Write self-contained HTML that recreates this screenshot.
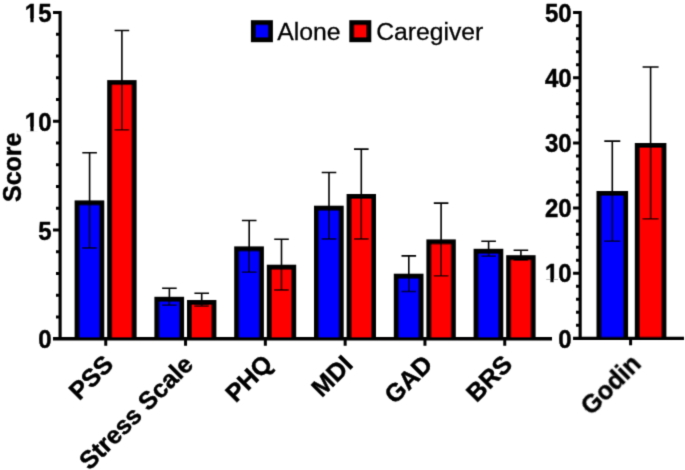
<!DOCTYPE html>
<html lang="en"><head><meta charset="utf-8"><title>Scores: Alone vs Caregiver</title>
<style>html,body{margin:0;padding:0;background:#fff}body{width:685px;height:470px;overflow:hidden}svg{display:block}text{font-family:"Liberation Sans",Arial,Helvetica,sans-serif;fill:#000}.r{stroke:#000;stroke-width:0.3px}.b{font-weight:bold;stroke:#000;stroke-width:0.45px;stroke-linejoin:round}</style>
</head><body>
<svg width="685" height="470" viewBox="0 0 685 470">
<defs><filter id="soft" x="0" y="0" width="685" height="470" filterUnits="userSpaceOnUse"><feConvolveMatrix order="3" kernelMatrix="0.0196 0.1008 0.0196 0.1008 0.5184 0.1008 0.0196 0.1008 0.0196" divisor="1" edgeMode="duplicate" preserveAlpha="false"/></filter></defs>
<rect width="685" height="470" fill="#fff"/>
<g filter="url(#soft)">
<rect x="74.60" y="200.40" width="29.70" height="138.40" fill="#000"/>
<rect x="79.60" y="205.40" width="19.70" height="133.40" fill="#0000ff"/>
<rect x="107.20" y="80.10" width="29.40" height="258.70" fill="#000"/>
<rect x="112.20" y="85.10" width="19.40" height="253.70" fill="#ff0000"/>
<path d="M89.60 152.80V247.90M82.30 152.80h14.60M82.30 247.90h14.60" stroke="#000" stroke-width="1.6" fill="none"/>
<path d="M121.90 30.50V129.70M114.60 30.50h14.60M114.60 129.70h14.60" stroke="#000" stroke-width="1.6" fill="none"/>
<rect x="154.40" y="296.80" width="29.70" height="42.00" fill="#000"/>
<rect x="159.40" y="301.80" width="19.70" height="37.00" fill="#0000ff"/>
<rect x="187.00" y="300.00" width="29.40" height="38.80" fill="#000"/>
<rect x="192.00" y="305.00" width="19.40" height="33.80" fill="#ff0000"/>
<path d="M169.40 288.20V305.20M162.10 288.20h14.60M162.10 305.20h14.60" stroke="#000" stroke-width="1.6" fill="none"/>
<path d="M201.70 293.30V306.20M194.40 293.30h14.60M194.40 306.20h14.60" stroke="#000" stroke-width="1.6" fill="none"/>
<rect x="234.20" y="246.40" width="29.70" height="92.40" fill="#000"/>
<rect x="239.20" y="251.40" width="19.70" height="87.40" fill="#0000ff"/>
<rect x="266.80" y="264.70" width="29.40" height="74.10" fill="#000"/>
<rect x="271.80" y="269.70" width="19.40" height="69.10" fill="#ff0000"/>
<path d="M249.20 220.50V272.20M241.90 220.50h14.60M241.90 272.20h14.60" stroke="#000" stroke-width="1.6" fill="none"/>
<path d="M281.50 239.30V289.90M274.20 239.30h14.60M274.20 289.90h14.60" stroke="#000" stroke-width="1.6" fill="none"/>
<rect x="314.00" y="205.70" width="29.70" height="133.10" fill="#000"/>
<rect x="319.00" y="210.70" width="19.70" height="128.10" fill="#0000ff"/>
<rect x="346.60" y="194.00" width="29.40" height="144.80" fill="#000"/>
<rect x="351.60" y="199.00" width="19.40" height="139.80" fill="#ff0000"/>
<path d="M329.00 172.50V238.90M321.70 172.50h14.60M321.70 238.90h14.60" stroke="#000" stroke-width="1.6" fill="none"/>
<path d="M361.30 149.10V238.90M354.00 149.10h14.60M354.00 238.90h14.60" stroke="#000" stroke-width="1.6" fill="none"/>
<rect x="393.80" y="273.70" width="29.70" height="65.10" fill="#000"/>
<rect x="398.80" y="278.70" width="19.70" height="60.10" fill="#0000ff"/>
<rect x="426.40" y="239.40" width="29.40" height="99.40" fill="#000"/>
<rect x="431.40" y="244.40" width="19.40" height="94.40" fill="#ff0000"/>
<path d="M408.80 255.90V291.50M401.50 255.90h14.60M401.50 291.50h14.60" stroke="#000" stroke-width="1.6" fill="none"/>
<path d="M441.10 203.10V275.80M433.80 203.10h14.60M433.80 275.80h14.60" stroke="#000" stroke-width="1.6" fill="none"/>
<rect x="473.60" y="248.80" width="29.70" height="90.00" fill="#000"/>
<rect x="478.60" y="253.80" width="19.70" height="85.00" fill="#0000ff"/>
<rect x="506.20" y="255.20" width="29.40" height="83.60" fill="#000"/>
<rect x="511.20" y="260.20" width="19.40" height="78.60" fill="#ff0000"/>
<path d="M488.60 241.30V256.20M481.30 241.30h14.60M481.30 256.20h14.60" stroke="#000" stroke-width="1.6" fill="none"/>
<path d="M520.90 250.30V260.10M513.60 250.30h14.60M513.60 260.10h14.60" stroke="#000" stroke-width="1.6" fill="none"/>
<rect x="596.50" y="191.00" width="31.60" height="147.80" fill="#000"/>
<rect x="601.50" y="196.00" width="21.60" height="142.80" fill="#0000ff"/>
<rect x="634.80" y="143.00" width="31.60" height="195.80" fill="#000"/>
<rect x="639.80" y="148.00" width="21.60" height="190.80" fill="#ff0000"/>
<path d="M612.30 141.10V241.30M604.30 141.10h16.00M604.30 241.30h16.00" stroke="#000" stroke-width="1.6" fill="none"/>
<path d="M650.60 67.00V218.70M642.60 67.00h16.00M642.60 218.70h16.00" stroke="#000" stroke-width="1.6" fill="none"/>
<path d="M60.10 11.10V338.80" stroke="#000" stroke-width="3.15" fill="none"/>
<path d="M53.00 338.80H552.00" stroke="#000" stroke-width="3.4" fill="none"/>
<path d="M56.00 317.05H60.10M56.00 295.31H60.10M56.00 273.56H60.10M56.00 251.81H60.10M53.00 230.07H60.10M56.00 208.32H60.10M56.00 186.57H60.10M56.00 164.83H60.10M56.00 143.08H60.10M53.00 121.33H60.10M56.00 99.59H60.10M56.00 77.84H60.10M56.00 56.09H60.10M56.00 34.35H60.10M53.00 12.60H60.10" stroke="#000" stroke-width="3.0" fill="none"/>
<text class="b" font-size="25.6" text-anchor="end" transform="translate(51.60 348.30) scale(0.94 1)">0</text>
<text class="b" font-size="25.6" text-anchor="end" transform="translate(51.60 239.57) scale(0.94 1)">5</text>
<text class="b" font-size="25.6" text-anchor="end" transform="translate(51.60 130.83) scale(0.94 1)">10</text>
<rect x="25.75" y="127.72" width="4.47" height="4.11" fill="#fff"/>
<rect x="33.81" y="127.72" width="4.34" height="4.11" fill="#fff"/>
<text class="b" font-size="25.6" text-anchor="end" transform="translate(51.60 22.10) scale(0.94 1)">15</text>
<rect x="25.75" y="18.99" width="4.47" height="4.11" fill="#fff"/>
<rect x="33.81" y="18.99" width="4.34" height="4.11" fill="#fff"/>
<path d="M105.75 338.80V345.80M185.55 338.80V345.80M265.35 338.80V345.80M345.15 338.80V345.80M424.95 338.80V345.80M504.75 338.80V345.80" stroke="#000" stroke-width="3.0" fill="none"/>
<path d="M580.15 11.10V338.40" stroke="#000" stroke-width="3.15" fill="none"/>
<path d="M573.05 338.40H684.00" stroke="#000" stroke-width="3.4" fill="none"/>
<path d="M576.05 325.37H580.15M576.05 312.34H580.15M576.05 299.30H580.15M576.05 286.27H580.15M573.05 273.24H580.15M576.05 260.21H580.15M576.05 247.18H580.15M576.05 234.14H580.15M576.05 221.11H580.15M573.05 208.08H580.15M576.05 195.05H580.15M576.05 182.02H580.15M576.05 168.98H580.15M576.05 155.95H580.15M573.05 142.92H580.15M576.05 129.89H580.15M576.05 116.86H580.15M576.05 103.82H580.15M576.05 90.79H580.15M573.05 77.76H580.15M576.05 64.73H580.15M576.05 51.70H580.15M576.05 38.66H580.15M576.05 25.63H580.15M573.05 12.60H580.15" stroke="#000" stroke-width="3.0" fill="none"/>
<text class="b" font-size="25.6" text-anchor="end" transform="translate(571.65 347.60) scale(0.94 1)">0</text>
<text class="b" font-size="25.6" text-anchor="end" transform="translate(571.65 282.44) scale(0.94 1)">10</text>
<rect x="545.80" y="279.33" width="4.47" height="4.11" fill="#fff"/>
<rect x="553.86" y="279.33" width="4.34" height="4.11" fill="#fff"/>
<text class="b" font-size="25.6" text-anchor="end" transform="translate(571.65 217.28) scale(0.94 1)">20</text>
<text class="b" font-size="25.6" text-anchor="end" transform="translate(571.65 152.12) scale(0.94 1)">30</text>
<text class="b" font-size="25.6" text-anchor="end" transform="translate(571.65 86.96) scale(0.94 1)">40</text>
<text class="b" font-size="25.6" text-anchor="end" transform="translate(571.65 21.80) scale(0.94 1)">50</text>
<path d="M630.60 338.40V345.30" stroke="#000" stroke-width="3.0" fill="none"/>
<text class="b" font-size="25.0" text-anchor="end" transform="translate(114.75 365.80) rotate(-45)">PSS</text>
<text class="b" font-size="25.0" text-anchor="end" transform="translate(194.55 365.80) rotate(-45)">Stress Scale</text>
<text class="b" font-size="25.0" text-anchor="end" transform="translate(274.05 365.30) rotate(-45)">PHQ</text>
<text class="b" font-size="25.0" text-anchor="end" transform="translate(354.15 365.80) rotate(-45)">MDI</text>
<text class="b" font-size="25.0" text-anchor="end" transform="translate(433.95 365.80) rotate(-45)">GAD</text>
<text class="b" font-size="25.0" text-anchor="end" transform="translate(513.75 365.80) rotate(-45)">BRS</text>
<text class="b" font-size="25.0" text-anchor="end" transform="translate(642.30 365.30) rotate(-45)">Godin</text>
<text class="b" font-size="25" text-anchor="middle" transform="translate(21.2 167.3) rotate(-90)">Score</text>
<rect x="250.90" y="20.2" width="22" height="22" fill="#000"/>
<rect x="255.90" y="25.2" width="12" height="12" fill="#0000ff"/>
<rect x="349.30" y="20.2" width="22" height="22" fill="#000"/>
<rect x="354.30" y="25.2" width="12" height="12" fill="#ff0000"/>
<text class="r" x="277.2" y="39.5" font-size="24.8">Alone</text>
<text class="r" x="376.2" y="39.5" font-size="24.7">Caregiver</text>
</g></svg></body></html>
